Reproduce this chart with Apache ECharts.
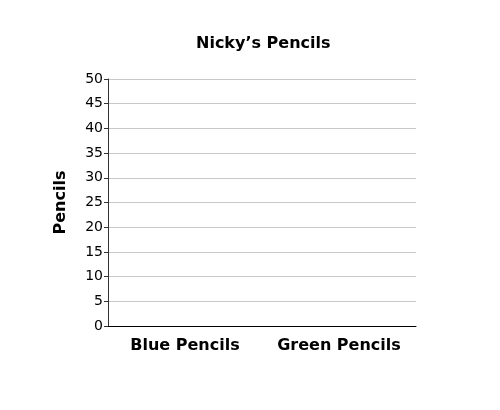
<!DOCTYPE html>
<html>
<head>
<meta charset="utf-8">
<script src="https://cdn.jsdelivr.net/npm/echarts@6/dist/echarts.min.js"></script>
<style>html,body{margin:0;padding:0;background:#fff;}#c{width:500px;height:410px;}</style>
</head>
<body>
<div id="c"></div>
<script>
var titleText = "Nicky\u2019s Pencils";
var categories = ["Blue Pencils", "Green Pencils"];
var pencilValues = [0, 0];
var yAxisName = "Pencils";
var yMin = 0, yMax = 50, yStep = 5;

var chart = echarts.init(document.getElementById('c'), null, {renderer: 'canvas'});
chart.setOption({
  animation: false,
  backgroundColor: '#fff',
  title: {
    text: titleText, left: 191, top: 31,
    textStyle: {fontFamily: 'DejaVu Sans', fontSize: 16, fontWeight: 'bold', color: '#000'}
  },
  grid: {left: 108, right: 84, top: 79, bottom: 84, containLabel: false},
  xAxis: {
    type: 'category', data: categories,
    axisLine: {lineStyle: {color: '#000', width: 1}},
    axisTick: {show: false},
    axisLabel: {interval: 0, fontFamily: 'DejaVu Sans', fontSize: 16, fontWeight: 'bold', color: '#000', margin: 12}
  },
  yAxis: {
    type: 'value', min: yMin, max: yMax, interval: yStep,
    name: yAxisName, nameLocation: 'middle', nameGap: 39, nameRotate: 90,
    nameTextStyle: {fontFamily: 'DejaVu Sans', fontSize: 16, fontWeight: 'bold', color: '#000'},
    axisLine: {show: true, lineStyle: {color: '#333', width: 1}},
    axisTick: {show: true, length: 4, lineStyle: {color: '#333'}},
    axisLabel: {fontFamily: 'DejaVu Sans', fontSize: 14, color: '#000', margin: 5},
    splitLine: {lineStyle: {color: '#c8c8c8', width: 1}}
  },
  series: [{type: 'bar', data: pencilValues, itemStyle: {color: '#4472c4'}, barWidth: '50%'}]
});
</script>
</body>
</html>
